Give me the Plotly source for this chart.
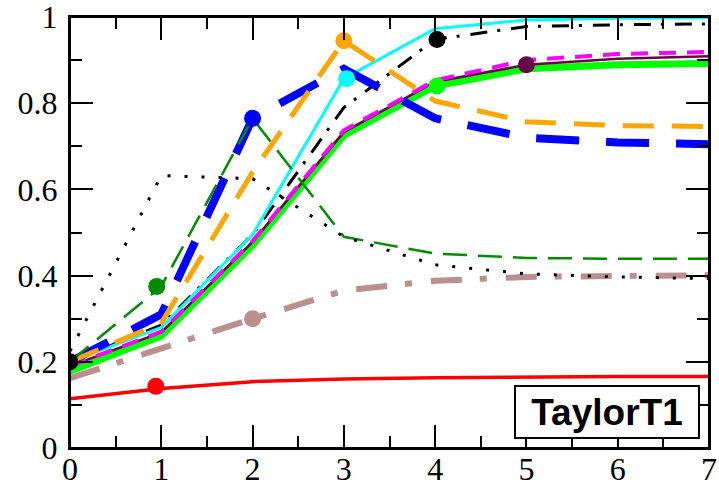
import plotly.graph_objects as go

# Sample positions shared by every curve
x = [0, 1, 2, 3, 4, 5, 6, 7]

# Curve values
red_vals = [0.114, 0.138, 0.154, 0.160, 0.163, 0.165, 0.166, 0.166]
rosy_vals = [0.162, 0.232, 0.300, 0.365, 0.388, 0.397, 0.400, 0.401]
dotted_vals = [0.225, 0.632, 0.625, 0.490, 0.425, 0.404, 0.397, 0.393]
green_vals = [0.200, 0.375, 0.765, 0.490, 0.451, 0.441, 0.439, 0.439]
lime_vals = [0.178, 0.260, 0.470, 0.725, 0.840, 0.880, 0.889, 0.892]
maroon_vals = [0.190, 0.268, 0.478, 0.733, 0.850, 0.889, 0.903, 0.909]
magenta_vals = [0.190, 0.270, 0.480, 0.737, 0.853, 0.900, 0.914, 0.919]
dashdot_vals = [0.200, 0.285, 0.495, 0.790, 0.948, 0.978, 0.982, 0.984]
cyan_vals = [0.200, 0.280, 0.495, 0.857, 0.973, 0.993, 0.997, 0.998]
blue_vals = [0.200, 0.310, 0.765, 0.880, 0.765, 0.720, 0.709, 0.705]
orange_vals = [0.200, 0.290, 0.640, 0.945, 0.805, 0.757, 0.748, 0.746]

# Circle markers, one per curve
marker_x = [0, 0.94, 0.95, 2.0, 2.0, 3.0, 3.03, 4.02, 4.02, 5.0]
marker_y = [0.200, 0.143, 0.375, 0.300, 0.765, 0.945, 0.857, 0.948, 0.840, 0.889]
marker_colors = ["#000000", "#ff0000", "#008b00", "#bc8f8f", "#0000ff",
                 "#ffa500", "#00ffff", "#000000", "#00ff00", "#670748"]

x_ticks = [0, 1, 2, 3, 4, 5, 6, 7]
y_ticks = [0, 0.2, 0.4, 0.6, 0.8, 1.0]
y_labels = ["0", "0.2", "0.4", "0.6", "0.8", "1"]

# (values, colour, width, dash) in drawing order, bottom first
curves = [
    (rosy_vals, "#bc8f8f", 6, "31px,18px,7px,19px"),
    (red_vals, "#ff0000", 3.5, "solid"),
    (lime_vals, "#00ff00", 7, "solid"),
    (maroon_vals, "#670748", 2.5, "solid"),
    (magenta_vals, "#ff00ff", 4, "17px,11px"),
    (dashdot_vals, "#000000", 3, "17px,10px,3px,11px"),
    (cyan_vals, "#00ffff", 3, "solid"),
    (blue_vals, "#0000ff", 8, "43px,27px"),
    (orange_vals, "#ffa500", 5, "31px,18px"),
    (green_vals, "#008b00", 2.5, "24px,11px"),
    (dotted_vals, "#000000", 3, "3px,14px"),
]

fig = go.Figure()
for vals, color, width, dash in curves:
    fig.add_trace(go.Scatter(
        x=x, y=vals, mode="lines",
        line=dict(color=color, width=width, dash=dash),
        showlegend=False, hoverinfo="skip",
    ))

fig.add_trace(go.Scatter(
    x=marker_x, y=marker_y, mode="markers",
    marker=dict(color=marker_colors, size=17, line=dict(width=0)),
    showlegend=False, hoverinfo="skip",
))

serif = "Liberation Serif, Times New Roman, serif"

axis_common = dict(
    showline=True, linecolor="black", linewidth=2, mirror="allticks",
    ticks="inside", ticklen=23, tickwidth=2, tickcolor="black",
    showgrid=False, zeroline=False, automargin=False,
    ticklabeloverflow="allow",
    tickfont=dict(family=serif, size=32, color="black"),
)

fig.update_xaxes(
    range=[0, 7], tickvals=x_ticks, ticktext=[str(v) for v in x_ticks],
    ticklabelstandoff=-8,
    minor=dict(ticks="inside", ticklen=12, tickwidth=2, tickcolor="black", dtick=0.5, tick0=0),
    **axis_common,
)
fig.update_yaxes(
    range=[0, 1], tickvals=y_ticks, ticktext=y_labels,
    ticklabelstandoff=4,
    minor=dict(ticks="inside", ticklen=12, tickwidth=2, tickcolor="black", dtick=0.1, tick0=0),
    **axis_common,
)

# Frame around the plotting area
fig.add_shape(
    type="rect", xref="paper", yref="paper", x0=0, y0=0, x1=1, y1=1,
    line=dict(color="black", width=2), fillcolor="rgba(0,0,0,0)", layer="above",
)

fig.add_annotation(
    xref="paper", yref="paper", x=0.8404, y=0.0842,
    xanchor="center", yanchor="middle",
    text="<b>TaylorT1</b>", showarrow=False,
    font=dict(family="Liberation Sans, Arial, sans-serif", size=37, color="black"),
    width=182, height=50, borderpad=0,
    bordercolor="black", borderwidth=2, bgcolor="white",
)

fig.update_layout(
    template="none",
    width=719, height=486,
    margin=dict(l=70, r=10, t=17, b=38),
    paper_bgcolor="white", plot_bgcolor="white",
    font=dict(family=serif, color="black"),
)

fig.write_html("out.html")
